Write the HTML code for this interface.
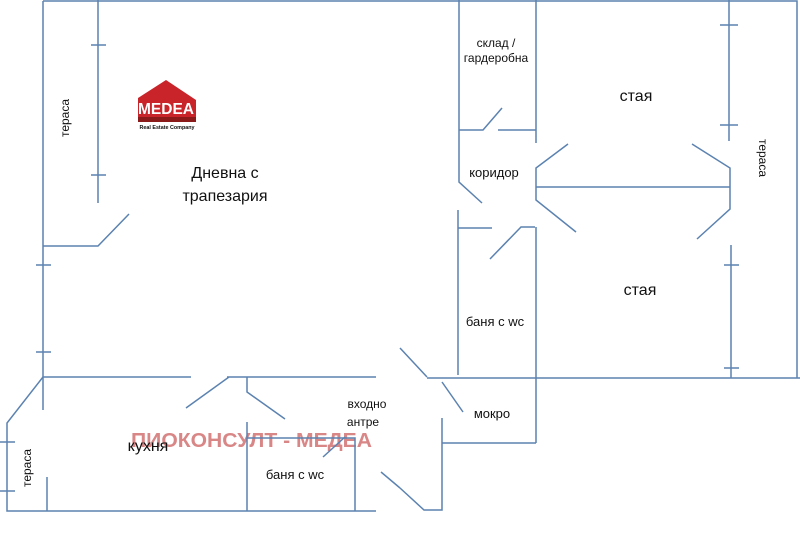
<!DOCTYPE html>
<html><head><meta charset="utf-8"><style>
html,body{margin:0;padding:0;background:#fff;width:800px;height:535px;overflow:hidden}
svg{display:block}
text{font-family:"Liberation Sans","DejaVu Sans",sans-serif;fill:#111}
</style></head><body>
<svg width="800" height="535" viewBox="0 0 800 535" xmlns="http://www.w3.org/2000/svg">
<text x="131" y="447" font-size="20.5" font-weight="bold" style="fill:#d98686" textLength="241" lengthAdjust="spacingAndGlyphs">ПИОКОНСУЛТ - МЕДЕА</text>
<g stroke="#5b82b0" stroke-width="1.5" fill="none">
<!-- outer -->
<path d="M43 1H797V378"/>
<path d="M43 1V410"/>
<path d="M36 265H51M36 352H51"/>
<!-- left terrace -->
<path d="M98 0V203M91 45H106M91 175H106"/>
<path d="M43 246H98L129 214"/>
<!-- storage/corridor -->
<path d="M459 0V182L482 203"/>
<path d="M459 130H483L502 108M498 130H536"/>
<path d="M536 0V143"/>
<path d="M568 144L536 168V200L576 232M536 187H730"/>
<path d="M692 144L730 168V209L697 239"/>
<path d="M729 0V141M720 25H738M720 125H738"/>
<path d="M458 210V375M458 228H492"/>
<path d="M490 259L521 227H535M536 227V443"/>
<path d="M427 378H800"/>
<path d="M731 245V378M724 265H739M724 368H739"/>
<path d="M400 348L427 377"/>
<path d="M442 382L463 412"/>
<path d="M442 418V510H424L400 488M442 443H536"/>
<!-- bottom left -->
<path d="M43 377H191M43 377L7 423V511H376"/>
<path d="M0 442H15M0 491H15"/>
<path d="M47 477V511"/>
<path d="M227 377H376M229 377L186 408M247 377V392L285 419"/>
<path d="M247 422V511M247 438H355V511"/>
<path d="M323 457L345 437"/>
<path d="M381 472L400 488"/>
</g>
<!-- logo -->
<g>
<polygon points="138,98 166,80 196,100 196,118 138,118" fill="#c8242a"/>
<text x="166" y="114" font-size="16" font-weight="bold" text-anchor="middle" style="fill:#fff" textLength="56" lengthAdjust="spacingAndGlyphs">MEDEA</text>
<rect x="138" y="117" width="58" height="5" fill="#8b1a1a"/>
<text x="167" y="129" font-size="5.5" font-weight="bold" text-anchor="middle" textLength="55" lengthAdjust="spacingAndGlyphs">Real Estate Company</text>
</g>
<!-- labels -->
<text x="225" y="178" font-size="16" text-anchor="middle">Дневна с</text>
<text x="225" y="201" font-size="16" text-anchor="middle">трапезария</text>
<text transform="translate(69,118) rotate(-90)" font-size="12" text-anchor="middle">тераса</text>
<text x="496" y="47" font-size="12" text-anchor="middle">склад /</text>
<text x="496" y="62" font-size="12" text-anchor="middle">гардеробна</text>
<text x="494" y="177" font-size="13" text-anchor="middle">коридор</text>
<text x="636" y="101" font-size="16" text-anchor="middle">стая</text>
<text x="640" y="295" font-size="16" text-anchor="middle">стая</text>
<text transform="translate(759,158) rotate(90)" font-size="12" text-anchor="middle">тераса</text>
<text x="495" y="326" font-size="13" text-anchor="middle">баня с wc</text>
<text x="492" y="418" font-size="13" text-anchor="middle">мокро</text>
<text x="367" y="408" font-size="12" text-anchor="middle">входно</text>
<text x="363" y="426" font-size="12" text-anchor="middle">антре</text>
<text x="148" y="451" font-size="16" text-anchor="middle">кухня</text>
<text x="295" y="479" font-size="13" text-anchor="middle">баня с wc</text>
<text transform="translate(31,468) rotate(-90)" font-size="12" text-anchor="middle">тераса</text>
</svg>
</body></html>
